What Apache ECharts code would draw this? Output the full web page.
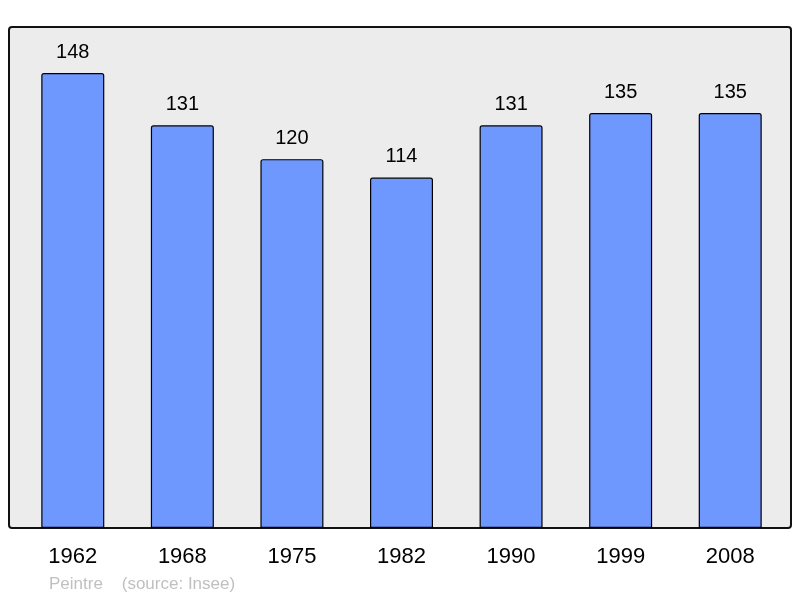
<!DOCTYPE html>
<html>
<head>
<meta charset="utf-8">
<script src="https://cdn.jsdelivr.net/npm/echarts@6/dist/echarts.min.js"></script>
<style>
  html, body { margin: 0; padding: 0; background: #fff; }
  #chart { width: 800px; height: 598px; }
</style>
</head>
<body>
<div id="chart"></div>
<script>
// population by census year
var years = ['1962', '1968', '1975', '1982', '1990', '1999', '2008']
var population = [148, 131, 120, 114, 131, 135, 135]
var footer = 'Peintre    (source: Insee)'

var font = '"Liberation Sans", Arial, sans-serif'
var chart = echarts.init(document.getElementById('chart'))

var opt = {
  animation: false,
  textStyle: {fontFamily: font},
  grid: {
    left: 18,
    right: 15,
    top: 27,
    bottom: 70
  },
  graphic: [
    {
      type: 'rect',
      z: -10,
      silent: true,
      shape: {x: 9, y: 27, width: 782, height: 501, r: 3},
      style: {fill: '#ececec', stroke: '#111', lineWidth: 2}
    },
    {
      type: 'text',
      left: 49,
      top: 576,
      silent: true,
      style: {
        text: footer,
        fill: '#c0c0c0',
        font: '17px ' + font
      }
    }
  ],
  xAxis: {
    type: 'category',
    data: years,
    axisLine: {show: false},
    axisTick: {show: false},
    axisLabel: {
      color: '#000',
      fontSize: 22,
      margin: 18,
      fontFamily: font
    }
  },
  yAxis: {
    type: 'value',
    min: 0,
    max: 163,
    show: false,
    splitLine: {show: false}
  },
  series: [
    {
      type: 'bar',
      data: population,
      barWidth: 63,
      itemStyle: {
        color: '#6f98ff',
        borderColor: '#000',
        borderWidth: 1.2,
        borderRadius: [2, 2, 0, 0]
      },
      label: {
        show: true,
        position: 'top',
        distance: 11,
        color: '#000',
        fontSize: 20,
        fontFamily: font
      }
    }
  ]
}

chart.setOption(opt)
</script>
</body>
</html>
